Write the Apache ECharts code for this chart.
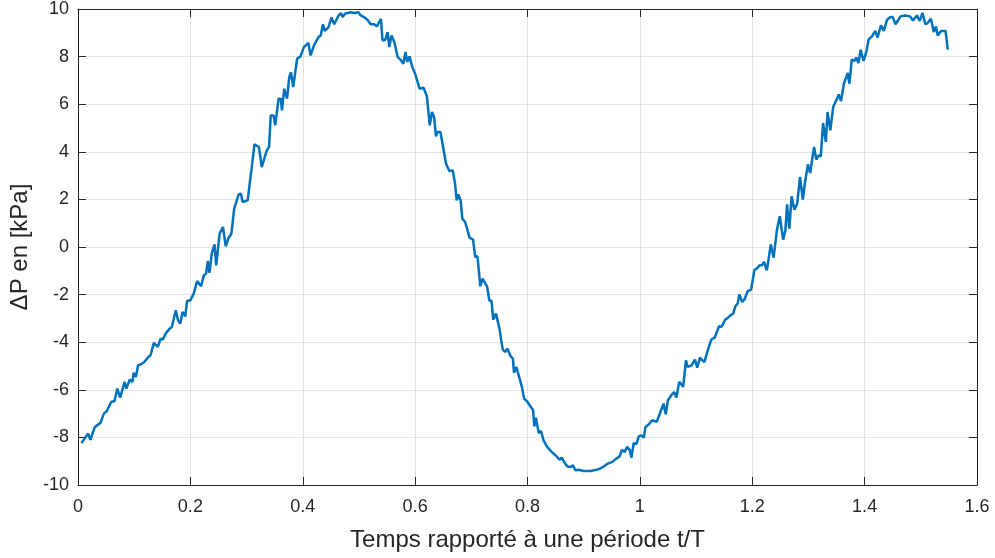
<!DOCTYPE html>
<html>
<head>
<meta charset="utf-8">
<script src="https://cdn.jsdelivr.net/npm/echarts@6/dist/echarts.min.js"></script>
<style>
  html, body { margin: 0; padding: 0; background: #fff; }
  #chart { width: 995px; height: 558px; }
</style>
</head>
<body>
<div id="chart"></div>
<script>
// t/T values
var tNorm = [
  0.006, 0.018, 0.022, 0.030, 0.040, 0.046, 0.051, 0.059, 0.065, 0.070, 0.075, 0.083, 0.086, 0.092, 0.097, 0.099,
  0.103, 0.107, 0.112, 0.118, 0.124, 0.129, 0.135, 0.142, 0.147, 0.151, 0.156, 0.163, 0.167, 0.174, 0.178, 0.182,
  0.186, 0.191, 0.194, 0.200, 0.206, 0.212, 0.219, 0.224, 0.228, 0.231, 0.234, 0.238, 0.243, 0.246, 0.252, 0.258,
  0.263, 0.268, 0.273, 0.278, 0.286, 0.290, 0.293, 0.302, 0.307, 0.309, 0.314, 0.322, 0.327, 0.330, 0.336, 0.340,
  0.343, 0.348, 0.351, 0.357, 0.361, 0.363, 0.367, 0.372, 0.376, 0.379, 0.383, 0.390, 0.396, 0.402, 0.410, 0.414,
  0.420, 0.428, 0.432, 0.436, 0.439, 0.446, 0.451, 0.456, 0.464, 0.468, 0.471, 0.475, 0.484, 0.493, 0.499, 0.503,
  0.509, 0.515, 0.521, 0.527, 0.532, 0.539, 0.542, 0.547, 0.551, 0.554, 0.558, 0.563, 0.569, 0.574, 0.579, 0.583,
  0.586, 0.590, 0.595, 0.600, 0.603, 0.608, 0.615, 0.621, 0.626, 0.630, 0.634, 0.637, 0.640, 0.645, 0.649, 0.655,
  0.661, 0.667, 0.671, 0.674, 0.677, 0.681, 0.684, 0.689, 0.697, 0.703, 0.707, 0.711, 0.716, 0.720, 0.728, 0.732,
  0.736, 0.739, 0.744, 0.750, 0.756, 0.760, 0.764, 0.770, 0.774, 0.776, 0.780, 0.786, 0.790, 0.794, 0.800, 0.806,
  0.810, 0.812, 0.815, 0.820, 0.824, 0.829, 0.835, 0.843, 0.852, 0.857, 0.861, 0.867, 0.871, 0.877, 0.881, 0.885,
  0.891, 0.900, 0.912, 0.923, 0.929, 0.936, 0.943, 0.951, 0.958, 0.964, 0.968, 0.973, 0.977, 0.982, 0.985, 0.989,
  0.994, 0.998, 1.002, 1.007, 1.010, 1.016, 1.022, 1.030, 1.036, 1.042, 1.046, 1.050, 1.056, 1.061, 1.065, 1.070,
  1.074, 1.077, 1.082, 1.085, 1.092, 1.098, 1.102, 1.107, 1.111, 1.115, 1.120, 1.127, 1.133, 1.141, 1.145, 1.152,
  1.157, 1.161, 1.166, 1.170, 1.174, 1.177, 1.182, 1.186, 1.192, 1.198, 1.204, 1.208, 1.213, 1.217, 1.221, 1.226,
  1.233, 1.238, 1.244, 1.249, 1.251, 1.255, 1.259, 1.262, 1.266, 1.270, 1.275, 1.280, 1.285, 1.290, 1.294, 1.299,
  1.303, 1.306, 1.310, 1.314, 1.318, 1.322, 1.326, 1.331, 1.334, 1.339, 1.344, 1.350, 1.354, 1.358, 1.363, 1.367,
  1.370, 1.373, 1.377, 1.382, 1.385, 1.389, 1.393, 1.398, 1.403, 1.407, 1.413, 1.419, 1.423, 1.429, 1.434, 1.440,
  1.446, 1.450, 1.455, 1.464, 1.472, 1.481, 1.486, 1.493, 1.498, 1.503, 1.508, 1.512, 1.518, 1.523, 1.527, 1.530,
  1.536, 1.544, 1.548
];

// pressure difference in kPa, same order as tNorm
var deltaP = [
  -8.24, -7.84, -8.10, -7.56, -7.39, -7.00, -6.90, -6.51, -6.47, -5.95, -6.33, -5.67, -5.95, -5.57, -5.67, -5.29,
  -5.46, -4.97, -4.93, -4.83, -4.65, -4.55, -4.03, -4.20, -3.85, -3.89, -3.64, -3.43, -3.36, -2.66, -3.08, -3.22,
  -2.73, -2.91, -2.27, -2.24, -1.96, -1.43, -1.65, -1.19, -1.12, -0.59, -1.09, -0.28, 0.11, -0.77, 0.56, 0.84,
  0.03, 0.39, 0.56, 1.61, 2.21, 2.24, 1.89, 1.96, 2.94, 3.29, 4.31, 4.20, 3.36, 3.43, 4.06, 4.20,
  5.53, 5.53, 5.11, 6.23, 6.23, 5.74, 6.65, 6.23, 7.14, 7.35, 6.72, 7.91, 8.01, 8.40, 8.57, 8.05,
  8.47, 8.82, 8.89, 9.36, 9.08, 9.24, 9.64, 9.36, 9.73, 9.83, 9.66, 9.80, 9.86, 9.83, 9.87, 9.73,
  9.66, 9.55, 9.36, 9.36, 9.27, 9.59, 8.68, 8.71, 9.03, 8.40, 8.89, 8.61, 7.98, 7.87, 7.70, 8.19,
  7.77, 8.01, 7.56, 7.28, 7.31, 6.65, 6.69, 6.33, 5.11, 5.67, 5.43, 4.65, 4.83, 4.83, 4.31, 3.50,
  3.19, 3.22, 2.66, 1.96, 2.21, 1.96, 1.19, 1.05, 0.39, 0.31, -0.42, -0.39, -1.65, -1.33, -1.65, -2.24,
  -2.27, -3.05, -2.80, -3.43, -4.31, -4.41, -4.27, -4.59, -4.69, -5.29, -5.04, -5.53, -5.88, -6.37, -6.51, -6.72,
  -6.86, -7.54, -7.17, -7.82, -7.73, -8.15, -8.40, -8.61, -8.80, -8.94, -8.85, -9.10, -9.22, -9.24, -9.17, -9.38,
  -9.36, -9.41, -9.41, -9.36, -9.31, -9.22, -9.10, -9.03, -8.89, -8.80, -8.52, -8.61, -8.40, -8.52, -8.85, -8.24,
  -8.27, -7.96, -7.91, -8.01, -7.56, -7.45, -7.28, -7.35, -6.97, -6.58, -7.03, -6.44, -6.23, -6.09, -6.33, -5.67,
  -5.77, -5.88, -4.76, -5.04, -4.97, -4.73, -5.07, -4.65, -4.76, -4.83, -4.41, -3.89, -3.81, -3.33, -3.36, -3.05,
  -2.97, -2.87, -2.80, -2.49, -2.38, -1.99, -2.31, -2.21, -1.85, -1.79, -0.95, -0.91, -0.77, -0.77, -0.63, -0.98,
  0.11, -0.45, 0.73, 1.29, 1.33, 0.31, 0.70, 1.79, 0.77, 2.13, 1.57, 1.82, 2.94, 1.99, 2.73, 3.47,
  3.11, 3.05, 4.20, 3.67, 3.85, 3.81, 5.21, 4.41, 5.67, 4.90, 5.88, 6.19, 6.41, 6.13, 6.86, 7.11,
  7.31, 6.86, 7.87, 7.82, 7.96, 7.73, 8.29, 7.82, 8.19, 8.71, 8.85, 9.08, 8.80, 9.31, 9.08, 9.55,
  9.66, 9.66, 9.36, 9.69, 9.73, 9.69, 9.52, 9.73, 9.50, 9.83, 9.36, 9.41, 9.59, 9.03, 9.27, 8.89,
  9.08, 9.08, 8.29
];

var xLabels = ['0', '0.2', '0.4', '0.6', '0.8', '1', '1.2', '1.4', '1.6'];
var yLabels = ['-10', '-8', '-6', '-4', '-2', '0', '2', '4', '6', '8', '10'];

var axisColor = '#262626';
var font = '"Liberation Sans", Arial, sans-serif';

var points = tNorm.map(function (t, i) { return [t, deltaP[i]]; });

var chart = echarts.init(document.getElementById('chart'));

function boxAxis(pos, isX, shown) {
  var ax = {
    type: 'value',
    position: pos,
    min: isX ? 0 : -10,
    max: isX ? 1.6 : 10,
    interval: isX ? 0.2 : 2,
    axisLine: { show: true, onZero: false, lineStyle: { color: axisColor, width: 1 } },
    axisTick: { show: true, inside: true, length: 8, lineStyle: { color: axisColor } },
    splitLine: { show: shown, lineStyle: { color: '#e3e3e3', width: 1 } },
    axisLabel: {
      show: shown,
      color: axisColor,
      fontFamily: font,
      fontSize: 18,
      margin: isX ? 13 : 9,
      formatter: function (v) {
        var list = isX ? xLabels : yLabels;
        var idx = isX ? Math.round(v / 0.2) : Math.round((v + 10) / 2);
        return list[idx] !== undefined ? list[idx] : '';
      }
    }
  };
  if (shown) {
    ax.name = isX ? 'Temps rapporté à une période t/T' : 'ΔP en [kPa]';
    ax.nameLocation = 'middle';
    ax.nameGap = isX ? 43 : 42;
    ax.nameTextStyle = { color: axisColor, fontFamily: font, fontSize: 24 };
  }
  return ax;
}

var option = {
  backgroundColor: '#ffffff',
  animation: false,
  grid: { left: 78, right: 18, top: 9, bottom: 73 },
  xAxis: [boxAxis('bottom', true, true), boxAxis('top', true, false)],
  yAxis: [boxAxis('left', false, true), boxAxis('right', false, false)],
  series: [
    {
      type: 'line',
      xAxisIndex: 0,
      yAxisIndex: 0,
      data: points,
      showSymbol: false,
      smooth: false,
      lineStyle: { color: '#0072bd', width: 2.5 },
      itemStyle: { color: '#0072bd' }
    }
  ]
};

chart.setOption(option);
</script>
</body>
</html>
